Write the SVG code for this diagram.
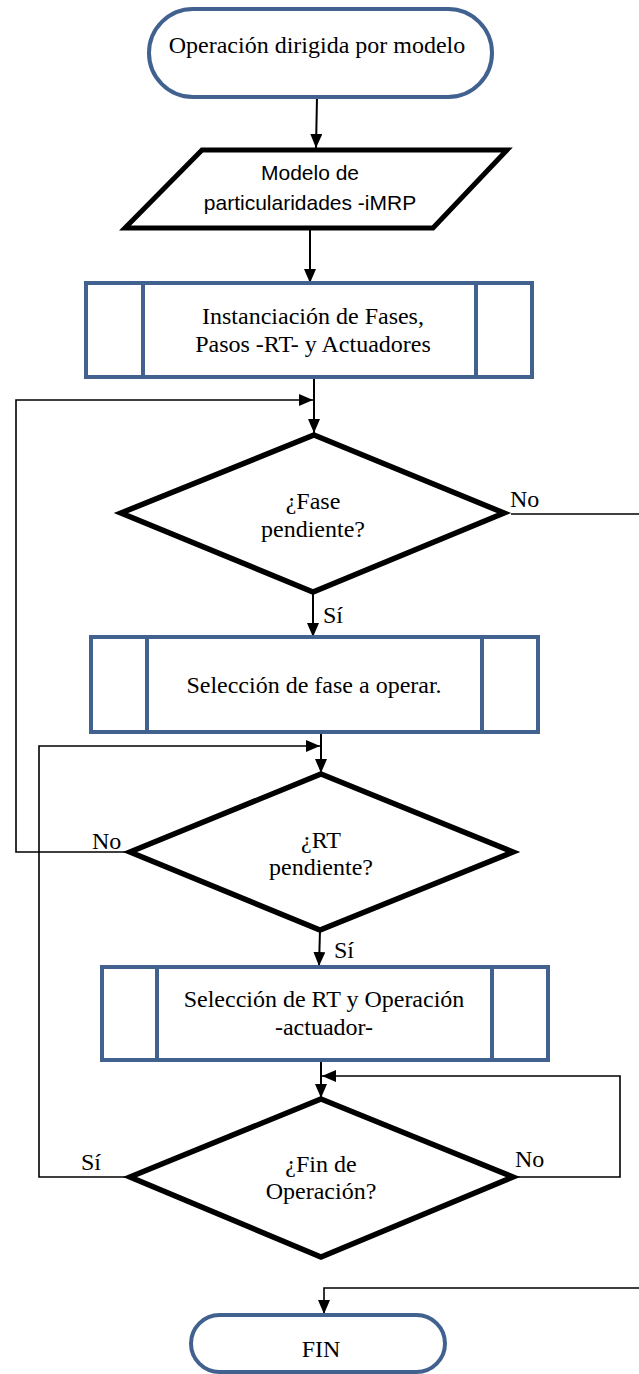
<svg xmlns="http://www.w3.org/2000/svg" width="639" height="1374" viewBox="0 0 639 1374">
  <style>
    .term { fill: #ffffff; stroke: #41618f; stroke-width: 4; }
    .proc { fill: #ffffff; stroke: #41618f; stroke-width: 4; }
    .bar { stroke: #41618f; stroke-width: 4; }
    .data { fill: #ffffff; stroke: #000000; stroke-width: 5; stroke-linejoin: miter; }
    .dec { fill: #ffffff; stroke: #000000; stroke-width: 5.5; stroke-linejoin: miter; }
    .flow { fill: none; stroke: #000000; stroke-width: 2; }
    .loop { fill: none; stroke: #000000; stroke-width: 1.6; }
  </style>
  <defs>
    <marker id="arrow" markerUnits="userSpaceOnUse" markerWidth="14" markerHeight="12" refX="14" refY="6" orient="auto">
      <path d="M0,0 L14,6 L0,12 Z" fill="#000000"/>
    </marker>
  </defs>

  <rect width="639" height="1374" fill="#ffffff"/>

  <!-- connectors -->
  <g id="connectors">
    <line class="flow" x1="317" y1="97" x2="316" y2="148" marker-end="url(#arrow)"/>
    <line class="flow" x1="310" y1="230" x2="310" y2="283" marker-end="url(#arrow)"/>
    <line class="flow" x1="314" y1="377" x2="314" y2="433" marker-end="url(#arrow)"/>
    <polyline class="loop" points="130,852 16,852 16,400 313,400" marker-end="url(#arrow)"/>
    <line class="loop" x1="511" y1="514" x2="639" y2="514"/>
    <line class="flow" x1="313" y1="592" x2="313" y2="637" marker-end="url(#arrow)"/>
    <line class="flow" x1="321" y1="732" x2="321" y2="773" marker-end="url(#arrow)"/>
    <polyline class="loop" points="130,1177 39,1177 39,746 320,746" marker-end="url(#arrow)"/>
    <line class="flow" x1="320" y1="930" x2="319" y2="966" marker-end="url(#arrow)"/>
    <line class="flow" x1="321" y1="1060" x2="321" y2="1098" marker-end="url(#arrow)"/>
    <polyline class="loop" points="513,1177 620,1177 620,1076 322,1076" marker-end="url(#arrow)"/>
    <polyline class="loop" points="639,1288 324,1288 324,1314" marker-end="url(#arrow)"/>
  </g>

  <!-- all serif text shares one font setting -->
  <g font-family="'Liberation Serif', 'Times New Roman', serif" font-size="24" fill="#000000">
    <g id="labels">
      <text x="510" y="507">No</text>
      <text x="323" y="623">Sí</text>
      <text x="92" y="849">No</text>
      <text x="334" y="958">Sí</text>
      <text x="81" y="1170">Sí</text>
      <text x="515" y="1167">No</text>
    </g>

    <g id="start">
      <rect class="term" x="149" y="9" width="343" height="88" rx="44" ry="44"/>
      <text x="317" y="53" text-anchor="middle">Operación dirigida por modelo</text>
    </g>

    <g id="model">
      <polygon class="data" points="202,150 507,150 433,228 125,228"/>
      <text x="310" y="180" text-anchor="middle" font-family="'Liberation Sans', Arial, sans-serif" font-size="21">Modelo de</text>
      <text x="310" y="210" text-anchor="middle" font-family="'Liberation Sans', Arial, sans-serif" font-size="21">particularidades -iMRP</text>
    </g>

    <g id="instantiation">
      <rect class="proc" x="86" y="283" width="446" height="94"/>
      <line class="bar" x1="143" y1="283" x2="143" y2="377"/>
      <line class="bar" x1="476" y1="283" x2="476" y2="377"/>
      <text x="313" y="324" text-anchor="middle">Instanciación de Fases,</text>
      <text x="313" y="352" text-anchor="middle">Pasos -RT- y Actuadores</text>
    </g>

    <g id="phase-pending">
      <polygon class="dec" points="314,435 504,513 313,592 121,513"/>
      <text x="313" y="509" text-anchor="middle">¿Fase</text>
      <text x="313" y="537" text-anchor="middle">pendiente?</text>
    </g>

    <g id="phase-select">
      <rect class="proc" x="91" y="637" width="447" height="95"/>
      <line class="bar" x1="147" y1="637" x2="147" y2="732"/>
      <line class="bar" x1="482" y1="637" x2="482" y2="732"/>
      <text x="314" y="693" text-anchor="middle">Selección de fase a operar.</text>
    </g>

    <g id="rt-pending">
      <polygon class="dec" points="321,774 513,852 320,930 130,852"/>
      <text x="321" y="848" text-anchor="middle">¿RT</text>
      <text x="321" y="875" text-anchor="middle">pendiente?</text>
    </g>

    <g id="rt-select">
      <rect class="proc" x="102" y="967" width="446" height="93"/>
      <line class="bar" x1="157" y1="967" x2="157" y2="1060"/>
      <line class="bar" x1="492" y1="967" x2="492" y2="1060"/>
      <text x="324" y="1007" text-anchor="middle">Selección de RT y Operación</text>
      <text x="324" y="1035" text-anchor="middle">-actuador-</text>
    </g>

    <g id="end-operation">
      <polygon class="dec" points="321,1099 513,1177 321,1257 130,1177"/>
      <text x="321" y="1172" text-anchor="middle">¿Fin de</text>
      <text x="321" y="1199" text-anchor="middle">Operación?</text>
    </g>

    <g id="end">
      <rect class="term" x="191" y="1315" width="254" height="57" rx="28.5" ry="28.5"/>
      <text x="321" y="1357" text-anchor="middle">FIN</text>
    </g>
  </g>
</svg>
